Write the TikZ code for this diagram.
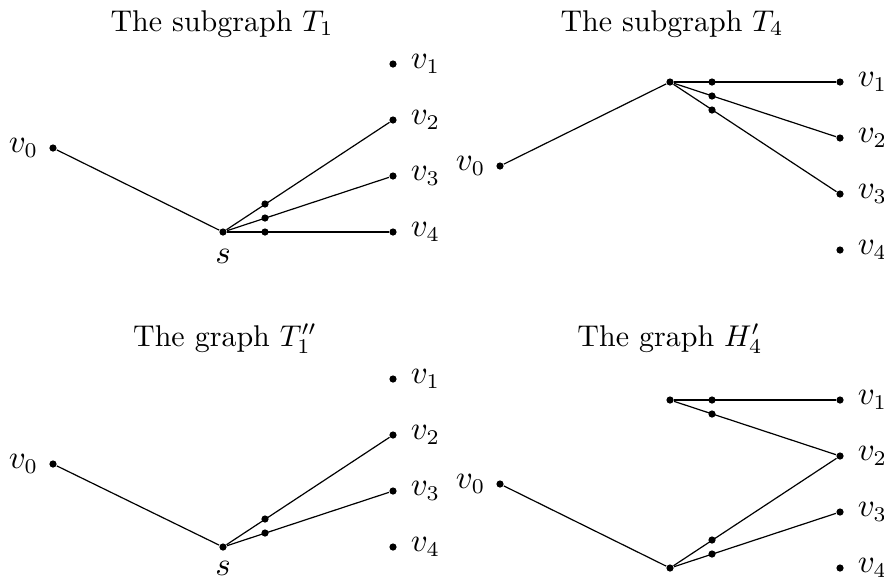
\documentclass[tikz,border=0pt]{standalone}
\begin{document}
\begin{tikzpicture}[x=0.33333pt,y=-0.33333pt,
  dot/.style={circle,fill=black,inner sep=0pt,minimum size=2.4pt},
  edge/.style={line width=0.4pt},
  ttl/.style={anchor=base,inner sep=0pt},
  every label/.style={inner sep=3.333pt,font=\fontsize{10.5}{12.6}\selectfont}]
\useasboundingbox (0,0) rectangle (884,584);
% ---------- top left: T_1
\node[ttl] (t1) at (222,31) {The subgraph $T_1$};
\node[dot,label=left:$v_0$] (a0) at (53,148) {};
\node[dot,label={[label distance=1pt]below:$s$}] (as) at (223,232) {};
\node[dot] (ai2) at (265,204) {};
\node[dot] (ai3) at (265,218) {};
\node[dot] (ai4) at (265,232) {};
\node[dot,label={[label distance=1pt]right:$v_1$}] (a1) at (393,64) {};
\node[dot,label={[label distance=1pt]right:$v_2$}] (a2) at (393,120) {};
\node[dot,label={[label distance=1pt]right:$v_3$}] (a3) at (393,176) {};
\node[dot,label={[label distance=1pt]right:$v_4$}] (a4) at (393,232) {};
\draw[edge] (a0) -- (as);
\draw[edge] (as) -- (a2);
\draw[edge] (as) -- (a3);
\draw[edge] (as) -- (a4);
% ---------- top right: T_4
\node[ttl] (t2) at (672,31) {The subgraph $T_4$};
\node[dot,label=left:$v_0$] (b0) at (500,166) {};
\node[dot] (bh) at (670,82) {};
\node[dot] (bi1) at (712,82) {};
\node[dot] (bi2) at (712,96) {};
\node[dot] (bi3) at (712,110) {};
\node[dot,label={[label distance=1pt]right:$v_1$}] (b1) at (840,82) {};
\node[dot,label={[label distance=1pt]right:$v_2$}] (b2) at (840,138) {};
\node[dot,label={[label distance=1pt]right:$v_3$}] (b3) at (840,194) {};
\node[dot,label={[label distance=1pt]right:$v_4$}] (b4) at (840,250) {};
\draw[edge] (b0) -- (bh);
\draw[edge] (bh) -- (b1);
\draw[edge] (bh) -- (b2);
\draw[edge] (bh) -- (b3);
% ---------- bottom left: T_1''
\node[ttl] (t3) at (225,346) {The graph $T_1''$};
\node[dot,label=left:$v_0$] (c0) at (53,464) {};
\node[dot,label={[label distance=0pt]below:$s$}] (cs) at (223,547) {};
\node[dot] (ci2) at (265,519) {};
\node[dot] (ci3) at (265,533) {};
\node[dot,label={[label distance=1pt]right:$v_1$}] (c1) at (393,379) {};
\node[dot,label={[label distance=1pt]right:$v_2$}] (c2) at (393,435) {};
\node[dot,label={[label distance=1pt]right:$v_3$}] (c3) at (393,491) {};
\node[dot,label={[label distance=1pt]right:$v_4$}] (c4) at (393,547) {};
\draw[edge] (c0) -- (cs);
\draw[edge] (cs) -- (c2);
\draw[edge] (cs) -- (c3);
% ---------- bottom right: H_4'
\node[ttl] (t4) at (670,346) {The graph $H_4'$};
\node[dot,label=left:$v_0$] (d0) at (500,484) {};
\node[dot] (dt) at (670,400) {};
\node[dot] (dti1) at (712,400) {};
\node[dot] (dti2) at (712,414) {};
\node[dot] (db) at (670,568) {};
\node[dot] (dbi2) at (712,540) {};
\node[dot] (dbi3) at (712,554) {};
\node[dot,label={[label distance=1pt]right:$v_1$}] (d1) at (840,400) {};
\node[dot,label={[label distance=1pt]right:$v_2$}] (d2) at (840,456) {};
\node[dot,label={[label distance=1pt]right:$v_3$}] (d3) at (840,512) {};
\node[dot,label={[label distance=1pt]right:$v_4$}] (d4) at (840,568) {};
\draw[edge] (dt) -- (d1);
\draw[edge] (dt) -- (d2);
\draw[edge] (d0) -- (db);
\draw[edge] (db) -- (d2);
\draw[edge] (db) -- (d3);
\end{tikzpicture}
\end{document}
